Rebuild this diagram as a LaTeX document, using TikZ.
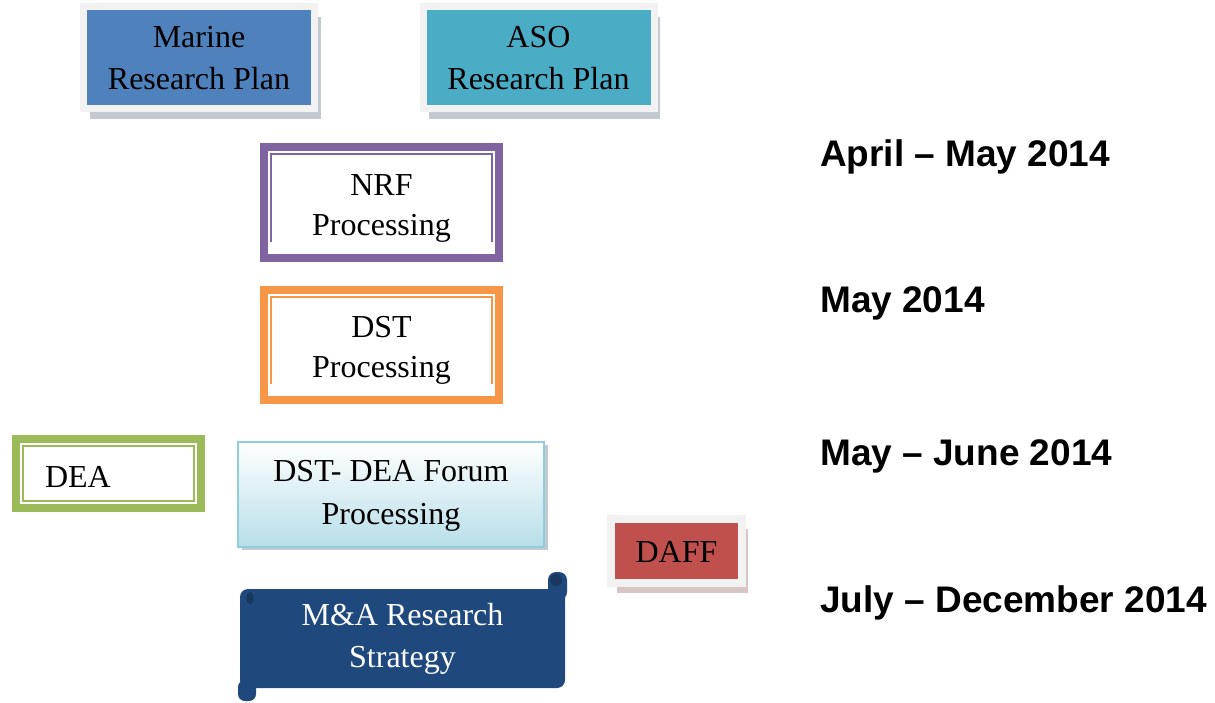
\documentclass[tikz,border=0pt]{standalone}
\usepackage{fontspec}
\setmainfont{Liberation Serif}
\newfontfamily\datefont{Liberation Sans}
\usepackage{tikz}
\usetikzlibrary{shadows}

\definecolor{marineblue}{HTML}{4F81BD}
\definecolor{asoteal}{HTML}{4BACC6}
\definecolor{framegrey}{HTML}{F2F2F2}
\definecolor{nrfpurple}{HTML}{8064A2}
\definecolor{dstorange}{HTML}{F79646}
\definecolor{deagreen}{HTML}{9BBB59}
\definecolor{forumline}{HTML}{92CDDC}
\definecolor{forumfill}{HTML}{B7DEE8}
\definecolor{daffred}{HTML}{C0504D}
\definecolor{scrollblue}{HTML}{1F497D}
\definecolor{scrolldark}{HTML}{17375E}
\definecolor{shadowgrey}{HTML}{C3C9D0}
\definecolor{shadowrose}{HTML}{D8C6C6}

\begin{document}
\begin{tikzpicture}[x=1pt, y=-1pt,
  plan/.style={draw=framegrey, line width=7pt, fill=#1, minimum width=231pt, minimum height=102pt,
    inner sep=0pt, align=center, font=\fontsize{32pt}{42pt}\selectfont},
  lift/.style={drop shadow={shadow xshift=6pt, shadow yshift=-10pt, fill=#1, opacity=1}},
  stage/.style={draw=#1, line width=8pt, fill=white, inner sep=0pt, align=center,
    font=\fontsize{32pt}{40pt}\selectfont,
    path picture={\draw[#1, line width=2pt]
      ([shift={(7pt,-7pt)}]path picture bounding box.north west) rectangle
      ([shift={(-7pt,7pt)}]path picture bounding box.south east);}},
  period/.style={anchor=base west, inner sep=0pt, font=\datefont\bfseries\fontsize{37pt}{44pt}\selectfont}
]
  \useasboundingbox (0,0) rectangle (1215,702);

  \node[plan=marineblue, lift=shadowgrey, text height=63pt, text depth=0pt] (marine) at (199,57.5) {Marine\\Research Plan};
  \node[plan=asoteal, lift=shadowgrey, text height=63pt, text depth=0pt] (aso) at (538.5,57.5) {ASO\\Research Plan};

  \node[stage=nrfpurple, minimum width=235pt, minimum height=111pt, text height=65pt, text depth=0pt] (nrf) at (381.5,202.5) {NRF\\Processing};
  \fill[white] ([shift={(8pt,8.5pt)}]nrf.south west) rectangle ([shift={(-8pt,20.5pt)}]nrf.south east);
  \node[stage=dstorange, minimum width=235pt, minimum height=110pt, text height=64pt, text depth=0pt] (dst) at (381.5,345) {DST\\Processing};
  \fill[white] ([shift={(8pt,8.5pt)}]dst.south west) rectangle ([shift={(-8pt,20.5pt)}]dst.south east);

  \node[stage=deagreen, minimum width=185pt, minimum height=69pt, text width=127pt, align=left, text height=27pt, text depth=0pt] (dea) at (108.5,473.5) {DEA};
  \node[draw=forumline, line width=2pt, top color=white, bottom color=forumfill, minimum width=306pt, minimum height=105pt,
    inner sep=0pt, align=center, font=\fontsize{32pt}{43pt}\selectfont, text height=59pt, text depth=0pt,
    drop shadow={shadow xshift=4pt, shadow yshift=-3pt, fill=shadowgrey, opacity=1}] (forum) at (391,494.5) {DST- DEA Forum\\Processing};
  \node[plan=daffred, lift=shadowrose, line width=8pt, minimum width=131pt, minimum height=64pt, text height=22pt, text depth=0pt] (daff) at (676.5,551) {DAFF};

  \fill[scrollblue, rounded corners=8pt] (548,600) -- (548,572) -- (567,572) -- (567,600) -- cycle;
  \fill[scrollblue, rounded corners=7pt] (238,680) -- (238,701) -- (256,701) -- (256,680) -- cycle;
  \node[fill=scrollblue, rounded corners=8pt, minimum width=325pt, minimum height=99pt, inner sep=0pt, align=center,
    text=white, font=\fontsize{32pt}{42pt}\selectfont, text height=57pt, text depth=0pt] (strategy) at (402.5,638.5) {M\&A Research\\Strategy};
  \fill[scrolldark] (556,580) circle (6);
  \fill[scrolldark] (250,598) ellipse (3.5 and 6);

  \node[period] (aprmay) at (820,166) {April – May 2014};
  \node[period] (may) at (820,312) {May 2014};
  \node[period] (mayjune) at (820,465) {May – June 2014};
  \node[period] (julydec) at (820,612) {July – December 2014};
\end{tikzpicture}
\end{document}
